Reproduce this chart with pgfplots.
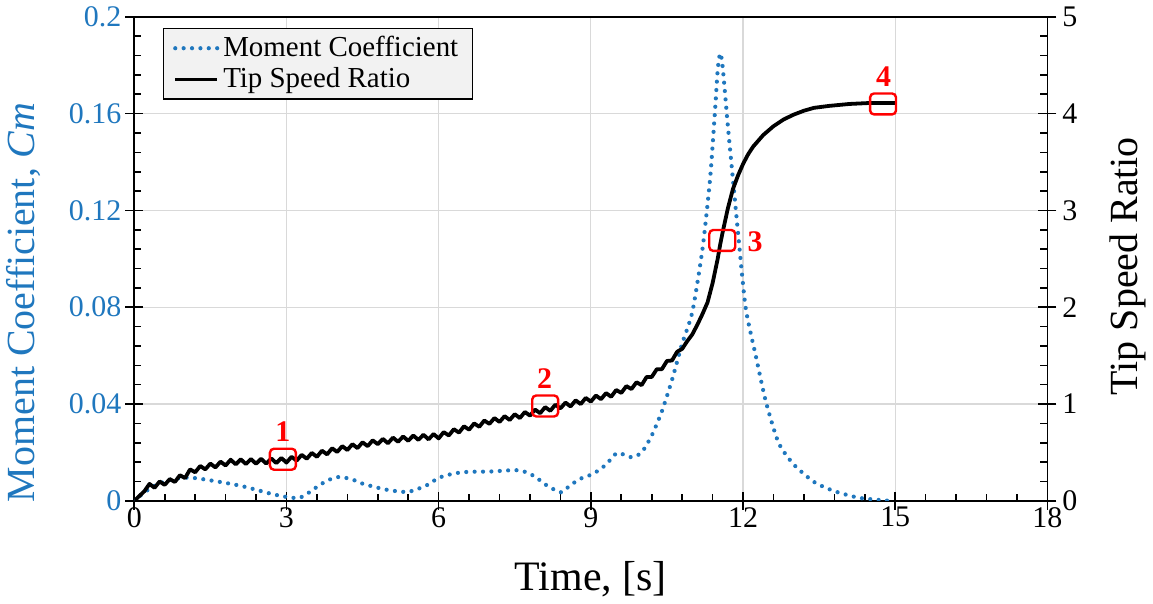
\documentclass[border=0pt]{standalone}
\usepackage{pgfplots}
\pgfplotsset{compat=1.18}
\usepackage{fontspec}
\setmainfont{Liberation Serif}
\definecolor{cmblue}{RGB}{31,119,190}
\definecolor{gridgray}{RGB}{217,217,217}
\definecolor{legfill}{RGB}{242,242,242}
\definecolor{boxred}{RGB}{255,0,0}
\tikzset{
  cmstyle/.style={cmblue, line width=2.1pt, line cap=round, dash pattern=on 0pt off 4.2pt},
  tsrstyle/.style={black, line width=1.9pt, line join=round},
  mbox/.style={draw=boxred, line width=1.2pt, rounded corners=2pt, minimum width=13pt, minimum height=10.5pt, inner sep=0pt},
  mlab/.style={text=boxred, font=\fontsize{15}{15}\selectfont\bfseries},
}
\pgfplotsset{
  base/.style={
    width=457.5pt, height=242.5pt, scale only axis,
    xmin=0, xmax=18,
    tick label style={font=\fontsize{15}{17}\selectfont},
    label style={font=\fontsize{20}{22}\selectfont},
    /pgf/number format/assume math mode=true,
    tick align=inside, major tick length=9pt, minor tick length=3.5pt,
    tick style={black, line width=0.8pt},
    axis line style={black, line width=0.9pt},
  }
}
\begin{document}
\begin{tikzpicture}
\begin{axis}[base,
  xtick pos=left, ytick pos=left,
  xtick={0,3,6,9,12,15,18}, minor x tick num=4,
  xticklabel style={inner sep=2pt, yshift=-1pt},
  ymin=0, ymax=0.2, ytick={0,0.04,0.08,0.12,0.16,0.2}, minor y tick num=4,
  scaled y ticks=false,
  yticklabel style={/pgf/number format/fixed, /pgf/number format/precision=2, text=cmblue, xshift=-3pt},
  xmajorgrids, ymajorgrids, major grid style={gridgray, line width=0.6pt},
  major x tick style={yshift=-4.5pt},
  major y tick style={xshift=-4.5pt},
  xlabel={Time, [s]},
  xlabel style={at={(axis description cs:0.5,-0.161)}, anchor=center, font=\fontsize{21}{23}\selectfont},
  ylabel={Moment Coefficient, \textit{Cm}},
  ylabel style={at={(axis description cs:-0.121,0.41)}, anchor=center, text=cmblue},
]
\addplot[cmstyle, smooth, tension=0.4] coordinates {
(0.0,0.0000) (0.2,0.0035) (0.4,0.0062) (0.6,0.0080) (0.8,0.0092) (1.1,0.0096)
(1.4,0.0088) (1.8,0.0074) (2.1,0.0062) (2.4,0.0046) (2.7,0.0029) (3.0,0.0016)
(3.25,0.0012) (3.45,0.0035) (3.65,0.0065) (3.85,0.0088) (4.05,0.0099) (4.3,0.0088)
(4.5,0.0071) (4.9,0.0049) (5.2,0.0039) (5.4,0.0037) (5.6,0.0050) (5.8,0.0068)
(6.0,0.0095) (6.3,0.0113) (6.6,0.0120) (7.0,0.0121) (7.5,0.0127) (7.7,0.0120)
(7.9,0.0100) (8.1,0.0068) (8.3,0.0044) (8.42,0.0035) (8.6,0.0065) (8.8,0.0092)
(9.05,0.0112) (9.3,0.0150) (9.52,0.0198) (9.8,0.0180) (10.0,0.0200) (10.2,0.0270)
(10.4,0.0370) (10.6,0.0500) (10.8,0.0650) (11.0,0.0780) (11.2,0.1040) (11.35,0.1330)
(11.45,0.1620) (11.5,0.1780) (11.55,0.1850) (11.6,0.1790) (11.7,0.1550) (11.8,0.1330)
(11.9,0.1110) (12.05,0.0800) (12.25,0.0600) (12.45,0.0410) (12.7,0.0240) (13.0,0.0150)
(13.4,0.0078) (13.8,0.0040) (14.3,0.0012) (14.9,0.0000)
};
\end{axis}
\begin{axis}[base,
  axis x line=none, axis y line*=right, ytick pos=right,
  ymin=0, ymax=5, ytick={0,1,2,3,4,5}, minor y tick num=4,
  major y tick style={xshift=4.5pt},
  yticklabel style={xshift=4pt},
  ylabel={Tip Speed Ratio},
  ylabel style={at={(axis description cs:1.0885,0.485)}, anchor=center, rotate=0},
  legend style={at={(axis description cs:0.031,0.977)}, anchor=north west,
    draw=black, line width=0.6pt, fill=legfill,
    font=\fontsize{14.5}{17}\selectfont, inner xsep=5pt, inner ysep=2pt},
  legend cell align=left,
  legend image code/.code={\draw[#1] (0pt,0pt) -- (21pt,0pt);},
]
\addlegendimage{cmstyle}
\addlegendentry{Moment Coefficient}
\addplot[tsrstyle] coordinates {
(0.0,0.000) (0.1,0.050) (0.2,0.100)
(0.3,0.175) (0.4,0.135) (0.5,0.200) (0.6,0.165) (0.7,0.225) (0.8,0.195)
(0.9,0.265) (1.0,0.235) (1.1,0.325) (1.2,0.295) (1.3,0.360) (1.4,0.325)
(1.5,0.385) (1.6,0.345) (1.7,0.405) (1.8,0.365) (1.9,0.425) (2.0,0.377)
(2.1,0.429) (2.2,0.380) (2.3,0.432) (2.4,0.383) (2.5,0.434) (2.6,0.385)
(2.7,0.438) (2.8,0.390) (2.9,0.443) (3.0,0.395) (3.1,0.455) (3.2,0.415)
(3.3,0.475) (3.4,0.435) (3.5,0.495) (3.6,0.455) (3.7,0.518) (3.8,0.480)
(3.9,0.543) (4.0,0.505) (4.1,0.565) (4.2,0.525) (4.3,0.585) (4.4,0.545)
(4.5,0.605) (4.6,0.565) (4.7,0.625) (4.8,0.585) (4.9,0.640) (5.0,0.595)
(5.1,0.653) (5.2,0.610) (5.3,0.665) (5.4,0.620) (5.5,0.675) (5.6,0.630)
(5.7,0.683) (5.8,0.635) (5.9,0.690) (6.0,0.645) (6.1,0.710) (6.2,0.675)
(6.3,0.740) (6.4,0.705) (6.5,0.770) (6.6,0.735) (6.7,0.800) (6.8,0.765)
(6.9,0.830) (7.0,0.795) (7.1,0.855) (7.2,0.815) (7.3,0.875) (7.4,0.835)
(7.5,0.895) (7.6,0.855) (7.7,0.918) (7.8,0.880) (7.9,0.943) (8.0,0.905)
(8.1,0.968) (8.2,0.930) (8.3,0.993) (8.4,0.955) (8.5,1.015) (8.6,0.975)
(8.7,1.038) (8.8,1.000) (8.9,1.063) (9.0,1.025) (9.1,1.088) (9.2,1.050)
(9.3,1.113) (9.4,1.075) (9.5,1.145) (9.6,1.115) (9.7,1.185) (9.8,1.155)
(9.9,1.225) (10.0,1.195) (10.1,1.280) (10.2,1.280) (10.3,1.360) (10.4,1.360)
(10.5,1.445) (10.6,1.450) (10.7,1.540) (10.8,1.570)
(10.9,1.65) (11.0,1.72) (11.1,1.82) (11.2,1.93) (11.3,2.05) (11.4,2.25)
(11.5,2.50) (11.55,2.65) (11.6,2.78) (11.7,3.02) (11.8,3.22) (11.9,3.36)
(12.0,3.48) (12.1,3.58) (12.2,3.66) (12.4,3.78) (12.6,3.87) (12.8,3.94)
(13.0,3.99) (13.2,4.03) (13.4,4.06) (13.7,4.08) (14.1,4.10) (14.5,4.11) (15.0,4.11)
};
\addlegendentry{Tip Speed Ratio}
\node[mbox] at (axis cs:2.93,0.43) {};
\node[mbox] at (axis cs:8.10,0.98) {};
\node[mbox] at (axis cs:11.59,2.69) {};
\node[mbox] at (axis cs:14.76,4.10) {};
\node[mlab] at (axis cs:2.93,0.72) {1};
\node[mlab] at (axis cs:8.09,1.26) {2};
\node[mlab] at (axis cs:12.24,2.68) {3};
\node[mlab] at (axis cs:14.77,4.38) {4};
\end{axis}
\end{tikzpicture}
\end{document}
